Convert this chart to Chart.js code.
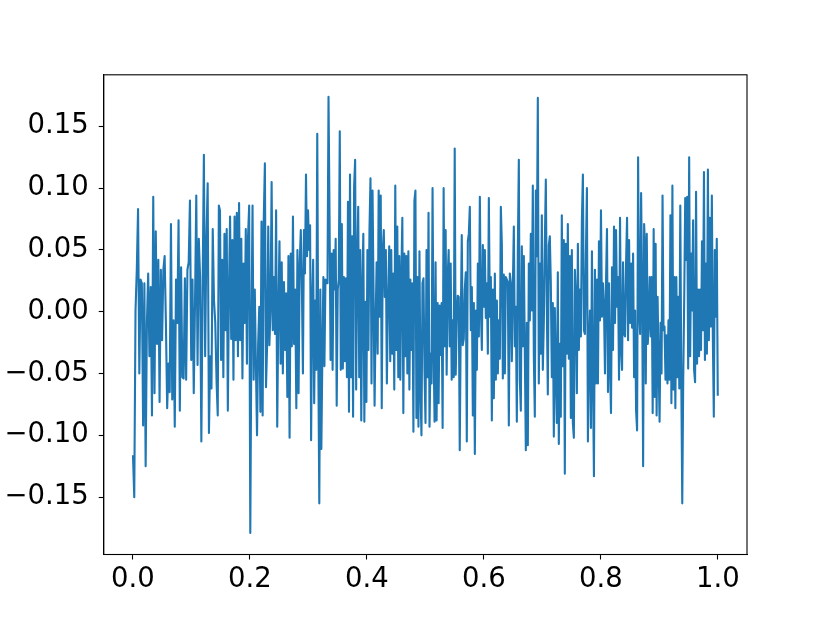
<!DOCTYPE html>
<html>
<head>
  <meta charset="UTF-8">
  <title>Signal</title>
  <script src="https://cdn.jsdelivr.net/npm/chart.js"></script>
  <style>
    body { margin: 0; background: #fff; }
    canvas { display: block; }
  </style>
</head>
<body>
  <canvas id="chart" width="830" height="623"></canvas>
  <script>
    // time span covered by each piece of the trace (read left to right)
    const segStart = [0, 0.1430, 0.2906, 0.4382, 0.5846, 0.7316, 0.8769];
    const segEnd   = [0.1407, 0.2889, 0.4359, 0.5829, 0.7299, 0.8758, 1.0];

    const seg1 = [-0.116,-0.150,0.001,0.034,0.083,-0.050,0.026,0.023,-0.092,0.023,-0.125,-0.009,0.031,-0.036,0.020,-0.084,0.093,-0.066,0.065,-0.026,0.042,-0.073,0.034,-0.023,0.034,0.045,-0.009,-0.078,-0.042,-0.065,0.071,-0.071,-0.007,-0.093,0.026,-0.009,0.074,-0.080,0.036,-0.053,-0.054,0.027,-0.055,0.034,0.040,0.090,-0.039,0.026,-0.066,0.007,0.094,-0.043,0.059,0.028,-0.105,0.018,0.127,-0.036,0.058,0.104,-0.098,-0.036,-0.062,0.067,0.009,-0.009];
    const seg2 = [-0.058,-0.084,0.086,0.082,-0.039,0.042,-0.053,0.063,-0.015,0.067,-0.080,0.018,0.077,-0.022,0.058,-0.055,0.077,-0.023,0.080,-0.036,0.088,-0.023,0.059,-0.054,0.039,-0.009,0.067,-0.042,0.061,0.086,-0.179,-0.015,0.086,-0.055,0.018,-0.042,-0.100,-0.026,0.004,-0.081,0.073,-0.084,0.075,0.120,-0.061,-0.026,0.069,-0.027,0.001,0.105,-0.015,0.028,-0.018,0.082,-0.093,0.001,0.057,-0.042,0.040,-0.050,0.024,-0.031,0.015,-0.069,0.045,-0.102,0.047,-0.028,0.077,-0.026,0.018,-0.078,0.050,-0.066,0.039,0.066,0.018];
    const seg3 = [-0.050,0.066,0.031,0.111,0.045,0.082,0.050,0.070,-0.104,0.007,0.042,-0.074,0.009,-0.047,0.144,-0.036,-0.155,0.018,-0.111,-0.034,0.028,-0.044,0.026,0.023,0.023,0.174,0.077,-0.039,0.047,-0.047,0.050,0.018,0.059,-0.076,0.018,0.026,0.146,-0.047,0.071,-0.046,0.028,-0.040,0.027,-0.053,0.089,-0.081,0.111,-0.053,0.061,-0.085,0.101,0.123,-0.063,0.039,0.085,-0.053,0.050,-0.088,0.018,0.063,-0.089,0.008,-0.073,0.050,-0.031,0.066,0.108,-0.058,0.098,0.015,-0.076,-0.009,0.040,-0.034,0.098,-0.004,0.094,-0.078,0.050,0.066,0.012,0.050,-0.058,0.004];
    const seg4 = [0.053,-0.040,0.050,-0.034,0.031,-0.063,0.102,-0.031,0.069,-0.053,0.045,-0.055,0.028,0.076,-0.082,0.047,-0.036,0.045,-0.050,0.049,-0.063,0.026,-0.031,0.023,-0.097,0.090,0.098,-0.086,0.028,-0.093,0.049,-0.063,-0.100,0.023,0.027,-0.047,-0.090,0.050,-0.053,0.080,-0.093,-0.034,-0.058,0.100,-0.028,-0.089,0.040,-0.088,0.007,-0.074,0.005,-0.035,0.007,-0.094,0.100,-0.028,0.066,-0.051,0.028,0.050,-0.028,0.039,-0.055,-0.007,-0.053,0.132,-0.051,-0.007,0.013,0.012,-0.112,-0.009,0.062,-0.027,-0.022,0.018,0.032,-0.105,0.057,0.063,0.085,-0.015,0.020,-0.084,0.007];
    const seg5 = [-0.115,0.001,-0.047,0.039,-0.020,0.093,0.004,-0.031,0.054,0.004,0.050,-0.005,0.023,-0.034,0.092,-0.004,0.028,-0.088,0.018,-0.070,0.031,-0.055,0.009,-0.050,-0.007,-0.038,0.085,0.055,-0.054,0.030,-0.050,0.028,0.026,0.024,-0.092,0.031,0.023,-0.040,0.020,0.069,-0.028,0.004,-0.089,0.050,0.123,-0.055,-0.080,0.053,-0.028,0.045,-0.034,-0.112,-0.009,-0.108,0.039,-0.007,0.063,0.001,0.102,-0.036,-0.085,0.098,0.045,0.173,-0.058,0.039,-0.034,0.078,-0.047,-0.009,0.055,0.107,0.004,-0.067,0.054,0.061,0.023,-0.053,0.007,-0.101,0.003,-0.050,-0.090,0.032,-0.107,-0.026];
    const seg6 = [-0.085,0.078,-0.044,0.058,-0.131,0.055,-0.034,0.071,-0.038,0.045,-0.086,0.050,-0.090,-0.102,0.034,0.012,-0.066,0.055,-0.031,0.018,-0.020,0.074,0.111,-0.015,-0.018,0.045,0.100,-0.105,-0.031,0.001,-0.094,0.049,-0.050,-0.133,0.034,-0.058,0.026,-0.058,0.057,-0.007,0.082,-0.004,0.023,0.004,-0.050,0.023,0.067,-0.065,0.023,-0.044,-0.082,0.036,-0.031,0.069,-0.009,0.066,0.004,0.028,-0.055,0.076,-0.031,-0.047,0.040,-0.018,-0.020,0.039,0.076,-0.023,0.058,-0.009,0.039,-0.013,0.047,-0.053,0.001,-0.080,-0.096,0.125,0.001,-0.018,0.096,0.018,-0.125,0.071,0.047];
    const seg7 = [-0.058,0.063,-0.026,-0.009,0.028,-0.020,0.028,-0.082,0.067,-0.069,0.055,-0.084,0.012,-0.042,-0.089,-0.009,-0.050,0.094,-0.015,-0.012,-0.055,-0.019,-0.058,-0.007,-0.055,0.078,-0.074,0.102,-0.063,0.028,-0.078,0.028,-0.053,0.012,-0.062,0.086,-0.053,-0.155,-0.053,0.012,0.092,0.042,0.093,-0.046,0.125,-0.036,0.047,0.001,0.074,-0.047,-0.057,0.097,-0.042,0.018,-0.036,0.018,-0.031,0.057,-0.015,0.113,-0.039,0.039,-0.034,0.115,-0.023,0.076,-0.012,0.094,-0.020,-0.085,0.050,-0.004,0.059,-0.068];

    const xTicks = [0.0, 0.2, 0.4, 0.6, 0.8, 1.0];
    const yTicks = [-0.15, -0.10, -0.05, 0.00, 0.05, 0.10, 0.15];

    const segments = [seg1, seg2, seg3, seg4, seg5, seg6, seg7];
    const points = [];
    segments.forEach((seg, k) => {
      const a = segStart[k], b = segEnd[k];
      seg.forEach((v, i) => {
        points.push({ x: a + (b - a) * i / (seg.length - 1), y: v });
      });
    });

    const fmt = (v, d) => v.toFixed(d).replace('-', '\u2212');

    // box around the axes, drawn over the line like matplotlib spines
    const frame = {
      id: 'frame',
      afterDraw(chart) {
        const { ctx, chartArea: a } = chart;
        ctx.save();
        ctx.strokeStyle = '#000';
        ctx.lineWidth = 1.1;
        ctx.strokeRect(a.left, a.top, a.right - a.left, a.bottom - a.top);
        ctx.restore();
      }
    };

    const axisFont = { family: 'DejaVu Sans', size: 27.5 };

    new Chart(document.getElementById('chart'), {
      type: 'line',
      data: {
        datasets: [{
          data: points,
          borderColor: '#1f77b4',
          borderWidth: 2.1,
          borderJoinStyle: 'round',
          pointRadius: 0,
          tension: 0,
          fill: false
        }]
      },
      options: {
        responsive: false,
        animation: false,
        devicePixelRatio: 1,
        layout: { padding: { top: 74.8, right: 83, left: 0, bottom: 0 } },
        plugins: { legend: { display: false }, tooltip: { enabled: false } },
        scales: {
          x: {
            type: 'linear',
            min: -0.05,
            max: 1.05,
            afterBuildTicks: s => { s.ticks = xTicks.map(v => ({ value: v })); },
            afterFit: s => { s.height = 68.5; },
            ticks: { color: '#000', font: axisFont, padding: 4, maxRotation: 0,
                     callback: v => fmt(v, 1) },
            grid: { drawOnChartArea: false, drawTicks: true, tickLength: 5,
                    tickColor: '#000', tickWidth: 1.1 },
            border: { display: true, color: '#000', width: 1.1 }
          },
          y: {
            type: 'linear',
            min: -0.1964,
            max: 0.1917,
            afterBuildTicks: s => { s.ticks = yTicks.map(v => ({ value: v })); },
            afterFit: s => { s.width = 103.75; },
            ticks: { color: '#000', font: axisFont, padding: 10,
                     callback: v => fmt(v, 2) },
            grid: { drawOnChartArea: false, drawTicks: true, tickLength: 5,
                    tickColor: '#000', tickWidth: 1.1 },
            border: { display: true, color: '#000', width: 1.1 }
          }
        }
      },
      plugins: [frame]
    });
  </script>
</body>
</html>
